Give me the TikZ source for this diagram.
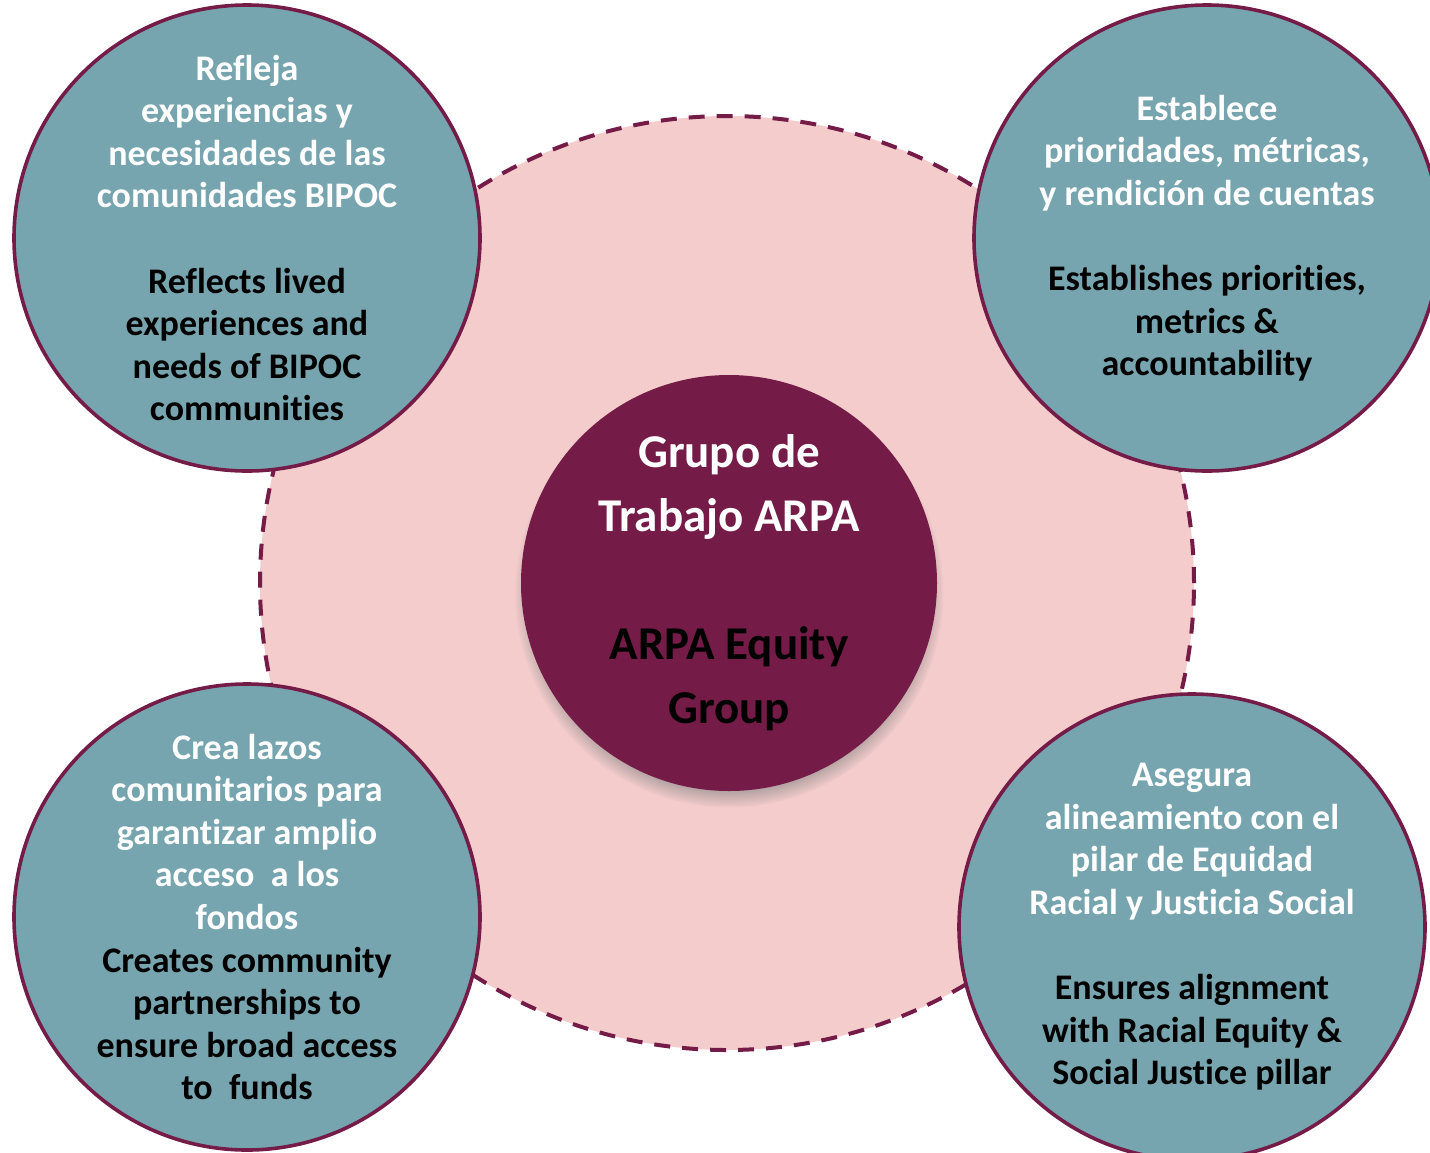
\documentclass[tikz,border=0pt]{standalone}
\usepackage{fontspec}
\setmainfont[Ligatures=NoCommon]{Carlito}
\usetikzlibrary{shadows}

\definecolor{wine}{HTML}{741B47}
\definecolor{tealblue}{HTML}{76A5AF}
\definecolor{blush}{HTML}{F4CCCC}

\tikzstyle{ring} = [circle, draw=wine, fill=blush, line width=2pt, dash pattern=on 8pt off 6pt, minimum size=467pt, inner sep=0pt]
\tikzstyle{hub} = [circle, fill=wine, minimum size=208pt, inner sep=0pt, align=center, text=white, font=\bfseries\fontsize{23.5}{32}\selectfont, circular drop shadow={shadow xshift=0pt, shadow yshift=-5pt, shadow scale=1.03}]
\tikzstyle{bubble} = [circle, draw=wine, line width=1.8pt, fill=tealblue, minimum size=233pt, inner sep=-20pt, align=center, text=white, font=\bfseries\fontsize{18}{21.3}\selectfont]

\begin{document}
\begin{tikzpicture}[x=0.5pt, y=-0.5pt]
\useasboundingbox (0,0) rectangle (1430,1152);

% dashed background ring and centre
\node (ring) [ring] at (727,583) {};
\node (hub) [hub] at (729,583) {Grupo de\\ Trabajo ARPA\\[32pt] \color{black}ARPA Equity\\ \color{black}Group};

% four roles
\node (voice) [bubble] at (247,238) {Refleja\\ experiencias y\\ necesidades de las\\ comunidades BIPOC\\[21.3pt]
  \color{black}Reflects lived\\ \color{black}experiences and\\ \color{black}needs of BIPOC\\ \color{black}communities};
\node (metrics) [bubble] at (1207,238) {Establece\\ prioridades, métricas,\\ y rendición de cuentas\\[21.3pt]
  \color{black}Establishes priorities,\\ \color{black}metrics \&\\ \color{black}accountability};
\node (reach) [bubble] at (247,917) {Crea lazos\\ comunitarios para\\ garantizar amplio\\ acceso\ \ a los\\ fondos\\
  \color{black}Creates community\\ \color{black}partnerships to\\ \color{black}ensure broad access\\ \color{black}to\ \ funds};
\node (pillar) [bubble] at (1192,927) {Asegura\\ alineamiento con el\\ pilar de Equidad\\ Racial y Justicia Social\\[21.3pt]
  \color{black}Ensures alignment\\ \color{black}with Racial Equity \&\\ \color{black}Social Justice pillar};
\end{tikzpicture}
\end{document}
